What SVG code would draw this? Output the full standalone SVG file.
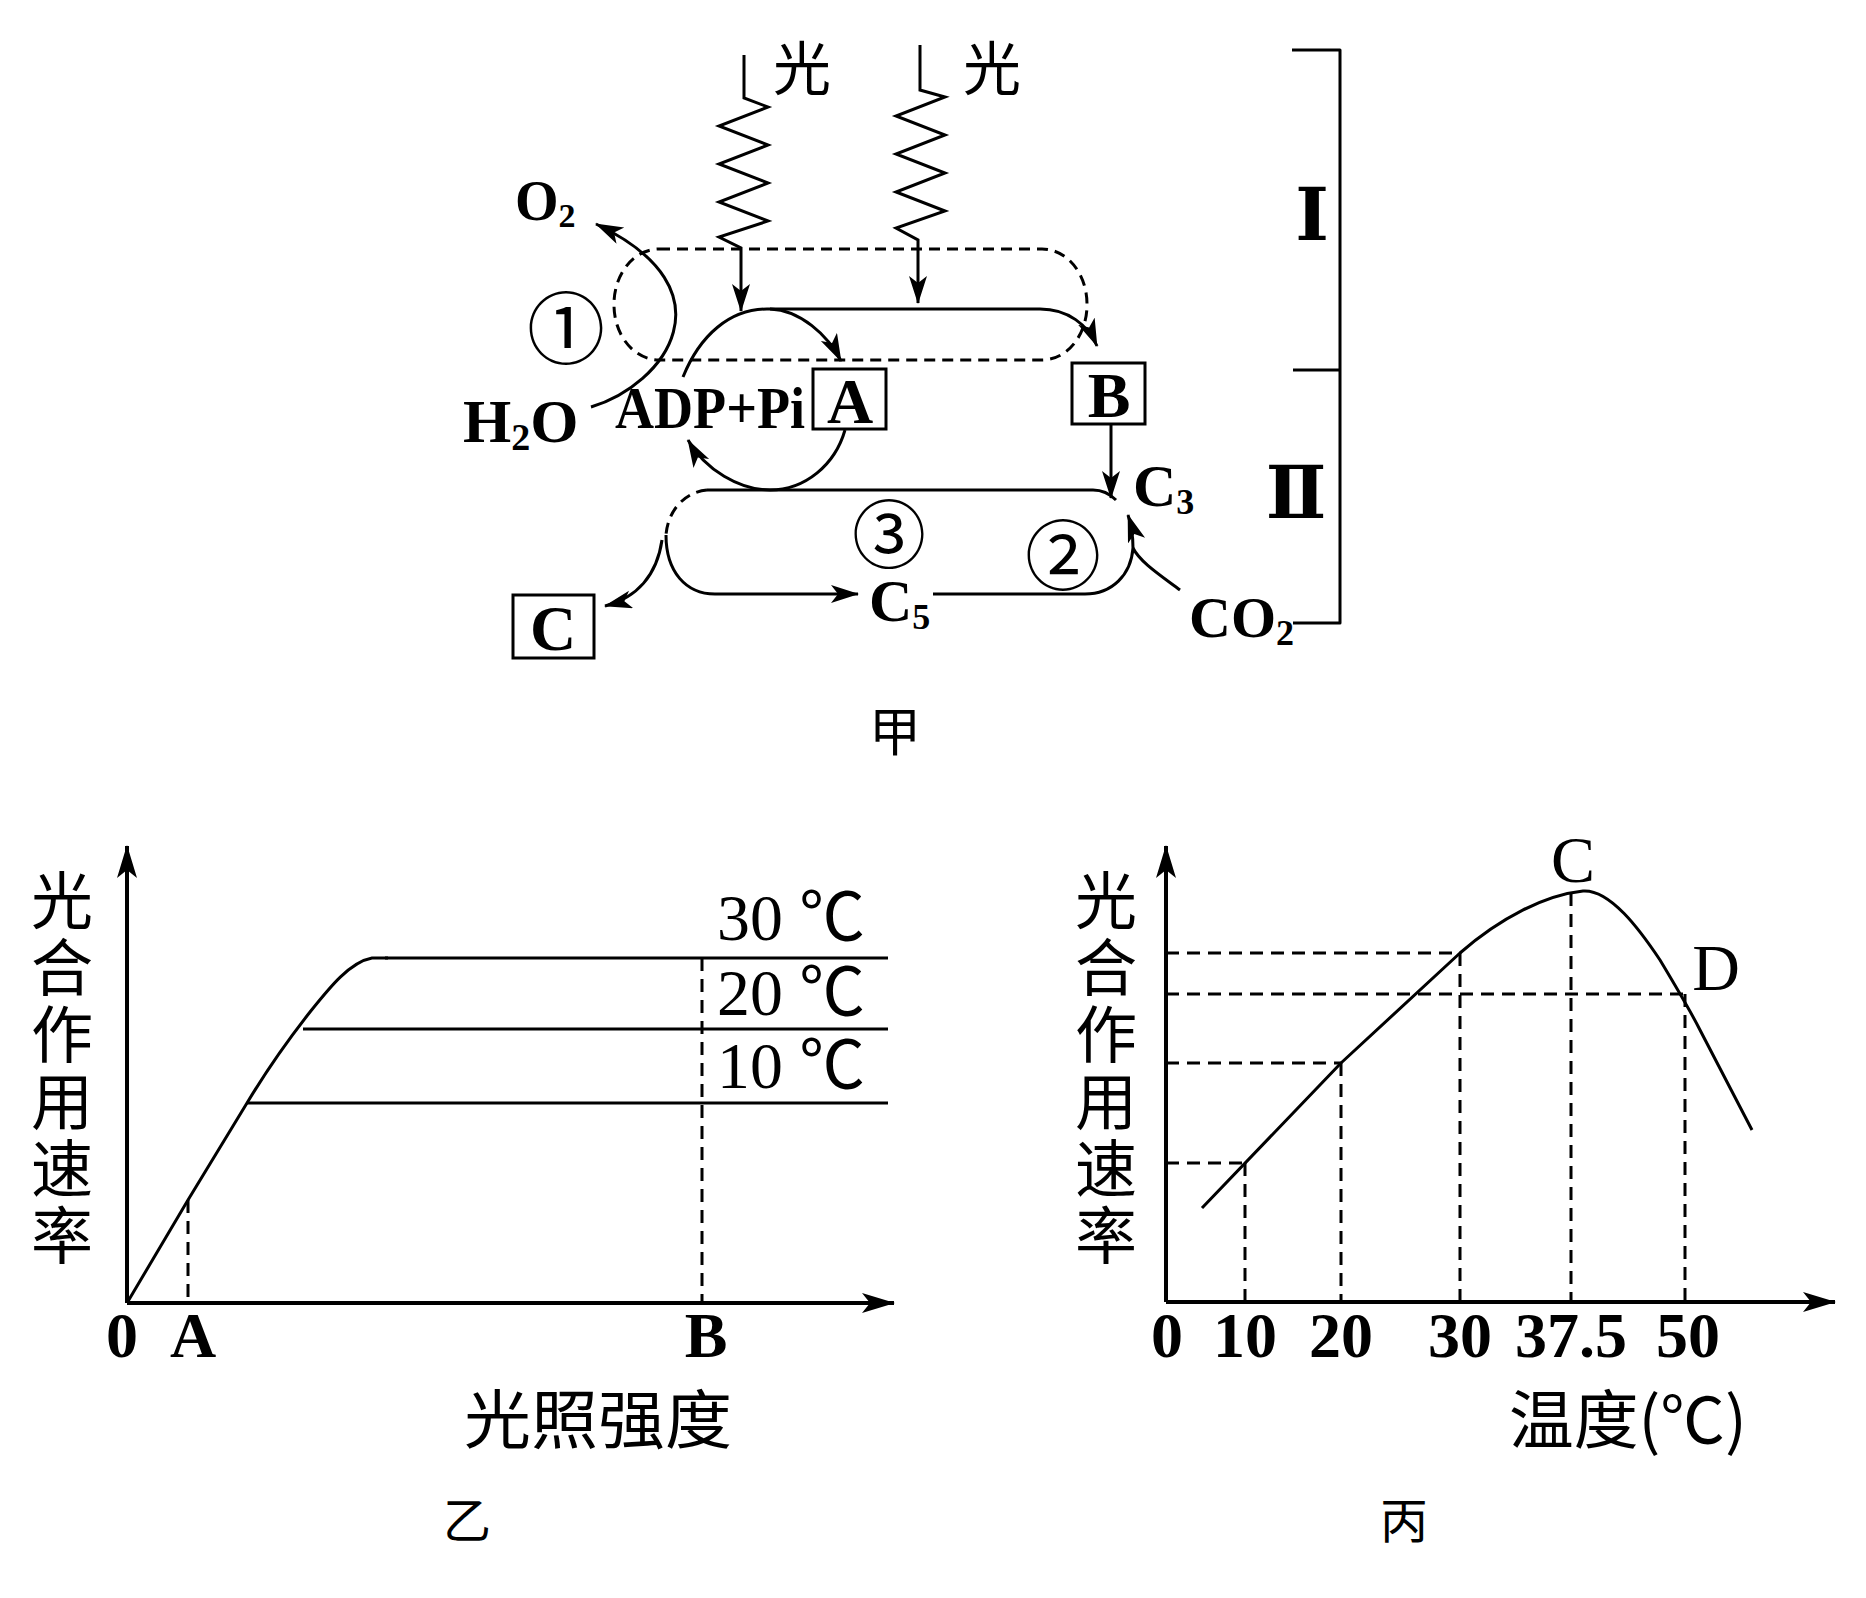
<svg xmlns="http://www.w3.org/2000/svg" width="1866" height="1598" viewBox="0 0 1866 1598">
<style>
.ln{fill:none;stroke:#000;stroke-width:3;stroke-linejoin:round}
.zz{fill:none;stroke:#000;stroke-width:3;stroke-linejoin:miter}
.ds{fill:none;stroke:#000;stroke-width:3;stroke-dasharray:11 7}
.gd{fill:none;stroke:#000;stroke-width:3;stroke-dasharray:13 8}
.ax{fill:none;stroke:#000;stroke-width:4}
.box{fill:none;stroke:#000;stroke-width:3}
.lat{font-family:"Liberation Serif","Noto Sans CJK SC",serif;font-weight:bold;fill:#000}
.reg{font-family:"Liberation Serif","Noto Sans CJK SC",serif;fill:#000}
.cjk{font-family:"Noto Sans CJK SC",sans-serif;fill:#000}
.vt{font-family:"Noto Sans CJK SC",sans-serif;fill:#000;writing-mode:vertical-rl;letter-spacing:5px}
.rom{font-family:"DejaVu Serif","Liberation Serif","Noto Sans CJK SC",serif;font-weight:bold;fill:#000}
</style>
<defs>
<marker id="ah" markerUnits="userSpaceOnUse" markerWidth="30" markerHeight="20" refX="27" refY="9" orient="auto"><path d="M0,0 L28,9 L0,18 L7,9 Z" fill="#000"/></marker>
<marker id="axh" markerUnits="userSpaceOnUse" markerWidth="34" markerHeight="22" refX="32" refY="10" orient="auto"><path d="M0,0 L33,10 L0,20 L8,10 Z" fill="#000"/></marker>
</defs>
<rect width="1866" height="1598" fill="#fff"/>

<!-- ===== Diagram 甲 ===== -->
<g id="connectors">
  <!-- light waves -->
  <path class="zz" d="M744,55 V98 L768,107 L719,126 L768,145 L719,164 L768,183 L719,202 L768,221 L719,237 L741,248 V311" marker-end="url(#ah)"/>
  <path class="zz" d="M920,45 V90 L945,97 L896,116 L945,135 L896,154 L945,173 L896,192 L945,211 L896,228 L918,240 V303" marker-end="url(#ah)"/>
  <!-- thylakoid dashed outline -->
  <rect class="ds" x="614" y="249" width="473" height="111" rx="45" ry="55"/>
  <!-- water splitting arc to O2 -->
  <path class="ln" d="M591,407 C665,385 735,290 596,224" marker-end="url(#ah)"/>
  <!-- ADP+Pi -> top -> B -->
  <path class="ln" d="M683,377 C700,335 730,309 767,309 H1040 C1068,309 1088,325 1097,346" marker-end="url(#ah)"/>
  <!-- branch to A -->
  <path class="ln" d="M770,309 C800,310 828,335 841,361" marker-end="url(#ah)"/>
  <!-- A back to ADP+Pi -->
  <path class="ln" d="M845,430 C835,465 805,490 770,490 C740,490 705,470 688,440" marker-end="url(#ah)"/>
  <!-- B -> C3 -->
  <path class="ln" d="M1111,425 V498" marker-end="url(#ah)"/>
  <!-- Calvin cycle -->
  <path class="ln" d="M707,490 H1093 C1103,490 1110,494 1116,500"/>
  <path class="ds" d="M707,490 C685,492 668,510 666,535"/>
  <path class="ln" d="M666,535 C666,572 686,594 715,594 H858" marker-end="url(#ah)"/>
  <path class="ln" d="M933,594 H1085 C1112,594 1131,575 1133,548 C1133,535 1131,524 1128,515" marker-end="url(#ah)"/>
  <path class="ln" d="M1180,590 C1160,575 1140,562 1133,548"/>
  <path class="ln" d="M662,540 C657,575 637,598 605,606" marker-end="url(#ah)"/>
  <!-- bracket -->
  <path class="ln" d="M1292,50 H1340 V623 H1293 M1293,370 H1340"/>
</g>

<g id="light1"><text class="cjk" x="802" y="65" font-size="58" text-anchor="middle" dominant-baseline="central">光</text></g>
<g id="light2"><text class="cjk" x="992" y="65" font-size="58" text-anchor="middle" dominant-baseline="central">光</text></g>
<g id="o2"><text class="lat" x="515" y="220" font-size="56">O<tspan font-size="34" dy="7">2</tspan></text></g>
<g id="h2o"><text class="lat" x="463" y="442" font-size="62">H<tspan font-size="38" dy="8">2</tspan><tspan dy="-8">O</tspan></text></g>
<g id="step1"><text class="cjk" x="566" y="324" font-size="78" text-anchor="middle" dominant-baseline="central">①</text></g>
<g id="adp"><text class="lat" x="615" y="428" font-size="60" textLength="190" lengthAdjust="spacingAndGlyphs">ADP+Pi</text></g>
<g id="boxA"><rect class="box" x="813" y="369" width="73" height="60"/><text class="lat" x="850" y="423" font-size="64" text-anchor="middle">A</text></g>
<g id="boxB"><rect class="box" x="1072" y="363" width="73" height="61"/><text class="lat" x="1109" y="417" font-size="64" text-anchor="middle">B</text></g>
<g id="c3"><text class="lat" x="1133" y="506" font-size="60">C<tspan font-size="36" dy="8">3</tspan></text></g>
<g id="step3"><text class="cjk" x="889" y="529" font-size="74" text-anchor="middle" dominant-baseline="central">③</text></g>
<g id="step2"><text class="cjk" x="1063" y="551" font-size="76" text-anchor="middle" dominant-baseline="central">②</text></g>
<g id="c5"><text class="lat" x="869" y="621" font-size="60">C<tspan font-size="36" dy="8">5</tspan></text></g>
<g id="co2"><text class="lat" x="1189" y="637" font-size="58">CO<tspan font-size="36" dy="8">2</tspan></text></g>
<g id="boxC"><rect class="box" x="513" y="595" width="81" height="63"/><text class="lat" x="553" y="650" font-size="64" text-anchor="middle">C</text></g>
<g id="stageI"><text class="rom" x="1312" y="240" font-size="72" text-anchor="middle">Ⅰ</text></g>
<g id="stageII"><text class="rom" x="1296" y="518" font-size="72" text-anchor="middle">Ⅱ</text></g>
<g id="title-jia"><text class="cjk" x="895" y="728" font-size="52" text-anchor="middle" dominant-baseline="central">甲</text></g>

<!-- ===== Graph 乙 ===== -->
<g id="graph-yi">
  <path class="ax" d="M127,1303 V846" marker-end="url(#axh)"/>
  <path class="ax" d="M127,1303 H894" marker-end="url(#axh)"/>
  <path class="ln" d="M127,1303 L188,1200 L247,1103 C268,1068 288,1040 310,1012 C330,987 350,962 372,958 L388,958"/>
  <path class="ln" d="M385,958 H888 M303,1029 H888 M247,1103 H888"/>
  <path class="gd" d="M188,1200 V1303 M702,958 V1303"/>
  <text class="vt" x="62" y="869" font-size="62">光合作用速率</text>
  <text class="reg" x="717" y="940" font-size="66" textLength="148" lengthAdjust="spacingAndGlyphs">30 ℃</text>
  <text class="reg" x="717" y="1015" font-size="66" textLength="148" lengthAdjust="spacingAndGlyphs">20 ℃</text>
  <text class="reg" x="717" y="1088" font-size="66" textLength="148" lengthAdjust="spacingAndGlyphs">10 ℃</text>
  <text class="lat" x="122" y="1357" font-size="64" text-anchor="middle">0</text>
  <text class="lat" x="193" y="1357" font-size="64" text-anchor="middle">A</text>
  <text class="lat" x="706" y="1357" font-size="64" text-anchor="middle">B</text>
  <text class="cjk" x="464" y="1415" font-size="64" textLength="268" lengthAdjust="spacingAndGlyphs" dominant-baseline="central">光照强度</text>
  <text class="cjk" x="467" y="1517" font-size="48" text-anchor="middle" dominant-baseline="central">乙</text>
</g>

<!-- ===== Graph 丙 ===== -->
<g id="graph-bing">
  <path class="ax" d="M1166,1302 V846" marker-end="url(#axh)"/>
  <path class="ax" d="M1166,1302 H1835" marker-end="url(#axh)"/>
  <path class="ln" d="M1202,1208 L1341,1063 L1460,953 C1500,918 1545,895 1583,891 C1610,889 1640,930 1660,960 C1675,985 1690,1010 1700,1030 L1752,1130"/>
  <path class="gd" d="M1245,1163 V1302 M1341,1063 V1302 M1460,953 V1302 M1571,893 V1302 M1685,994 V1302"/>
  <path class="gd" d="M1166,953 H1460 M1166,994 H1685 M1166,1063 H1341 M1166,1163 H1245"/>
  <text class="vt" x="1106" y="869" font-size="62">光合作用速率</text>
  <text class="reg" x="1573" y="882" font-size="66" text-anchor="middle">C</text>
  <text class="reg" x="1716" y="990" font-size="66" text-anchor="middle">D</text>
  <g class="lat" font-size="64" text-anchor="middle">
    <text x="1167" y="1357">0</text><text x="1245" y="1357">10</text><text x="1341" y="1357">20</text><text x="1460" y="1357">30</text><text x="1571" y="1357">37.5</text><text x="1688" y="1357">50</text>
  </g>
  <text class="cjk" x="1509" y="1415" font-size="64" textLength="238" lengthAdjust="spacingAndGlyphs" dominant-baseline="central">温度(℃)</text>
  <text class="cjk" x="1404" y="1517" font-size="48" text-anchor="middle" dominant-baseline="central">丙</text>
</g>
</svg>
